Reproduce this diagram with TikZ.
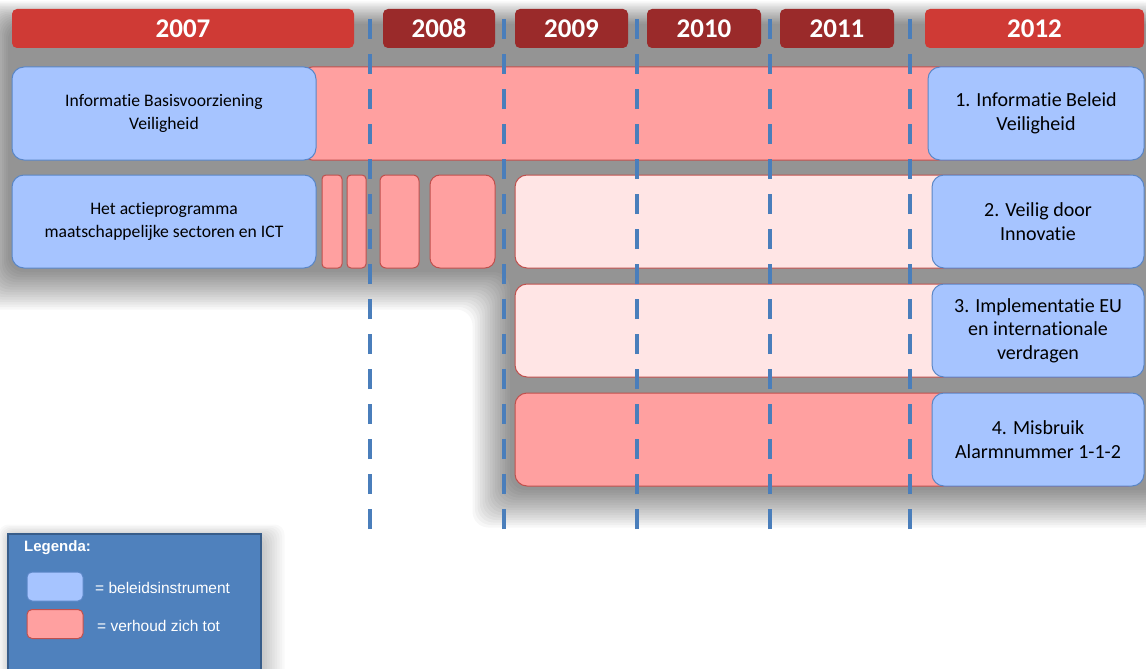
\documentclass[tikz,border=0pt]{standalone}
\usepackage{fontspec}
\setmainfont{Carlito}[Ligatures=NoCommon]
\newfontfamily\legfont{Liberation Sans}

\definecolor{yearred}{HTML}{CF3A35}
\definecolor{yeardark}{HTML}{9A2A2A}
\definecolor{instrfill}{HTML}{A6C4FF}
\definecolor{instrline}{HTML}{5A86C6}
\definecolor{relfill}{HTML}{FFA0A0}
\definecolor{rellight}{HTML}{FFE5E5}
\definecolor{relline}{HTML}{C0504D}
\definecolor{lineblue}{HTML}{4A7EBB}
\definecolor{legfill}{HTML}{4F81BD}
\definecolor{legline}{HTML}{385D8A}

\begin{document}
\begin{tikzpicture}[x=1pt,y=-1pt,
  year/.style={rounded corners=5pt,inner sep=0pt,minimum height=39pt,
    text=white,font=\fontsize{27}{30}\selectfont\bfseries},
  instr/.style={draw=instrline,fill=instrfill,line width=1pt,rounded corners=12pt,
    inner sep=0pt,align=center,minimum height=93pt,font=\fontsize{20}{23.5}\selectfont},
  instrsmall/.style={instr,font=\fontsize{17.6}{23}\selectfont},
  rel/.style={draw=relline,fill=relfill,line width=1pt,rounded corners=12pt,
    inner sep=0pt,minimum height=93pt},
  relpale/.style={rel,fill=rellight},
  yearline/.style={draw=lineblue,line width=4pt,dash pattern=on 20pt off 15pt},
  swatch/.style={line width=1pt,rounded corners=5pt,inner sep=0pt,
    minimum width=56pt,minimum height=29pt},
  legtext/.style={anchor=west,inner sep=0pt,text=white,font=\legfont\fontsize{15.5}{18}\selectfont}]
  \useasboundingbox (0,0) rectangle (1146,669);
  \fill[white] (0,0) rectangle (1146,669);

  % soft shadow behind the rows
  \foreach \k in {0,...,15}
    \fill[black,opacity=.03,rounded corners=16pt]
      (8-\k*2,24-\k*1.5) -- (1160,24-\k*1.5) -- (1160,490+\k*2.5) -- (510-\k*2.5,490+\k*2.5)
      -- (510-\k*2.5,272+\k*2.5) -- (8-\k*2,272+\k*2.5) -- cycle;
  \foreach \k in {0,...,9}
    \fill[black,opacity=.025,rounded corners=10pt] (12-\k*1.5,538-\k*1.5) rectangle (262+\k*2.5,690);

  % year headers
  \node[year,fill=yearred,minimum width=342pt] (y2007) at (183,28.5) {2007};
  \node[year,fill=yeardark,minimum width=112pt] (y2008) at (439,28.5) {2008};
  \node[year,fill=yeardark,minimum width=113pt] (y2009) at (571.5,28.5) {2009};
  \node[year,fill=yeardark,minimum width=114pt] (y2010) at (704,28.5) {2010};
  \node[year,fill=yeardark,minimum width=114pt] (y2011) at (837,28.5) {2011};
  \node[year,fill=yearred,minimum width=219pt] (y2012) at (1034.5,28.5) {2012};

  % row 1
  \node[rel,minimum width=840pt] (r1bar) at (720,113.5) {};
  \node[instrsmall,minimum width=304pt] (ibv) at (164,113.5) {Informatie Basisvoorziening\\Veiligheid};
  \node[instr,minimum width=216pt] (ibeleid) at (1036,113.5) {1. Informatie Beleid\\Veiligheid};

  % row 2
  \node[rel,rounded corners=4pt,minimum width=20pt] (r2a) at (332,221.5) {};
  \node[rel,rounded corners=4pt,minimum width=19pt] (r2b) at (356.5,221.5) {};
  \node[rel,rounded corners=6pt,minimum width=39pt] (r2c) at (399.5,221.5) {};
  \node[rel,rounded corners=10pt,minimum width=65pt] (r2d) at (462.5,221.5) {};
  \node[relpale,minimum width=625pt] (r2bar) at (827.5,221.5) {};
  \node[instrsmall,minimum width=304pt] (actie) at (164,221.5) {Het actieprogramma\\maatschappelijke sectoren en ICT};
  \node[instr,minimum width=212pt] (innov) at (1038,221.5) {2. Veilig door\\Innovatie};

  % row 3
  \node[relpale,minimum width=625pt] (r3bar) at (827.5,330.5) {};
  \node[instr,minimum width=212pt] (eu) at (1038,330.5) {3. Implementatie EU\\en internationale\\verdragen};

  % row 4
  \node[rel,minimum width=625pt] (r4bar) at (827.5,439.5) {};
  \node[instr,minimum width=212pt] (alarm) at (1038,439.5) {4. Misbruik\\Alarmnummer 1-1-2};

  % year boundaries
  \foreach \i/\x in {1/370,2/504,3/637,4/770,5/910} {
    \coordinate (lb\i) at (\x,529);
    \coordinate (lt\i) at (\x,18);
    \draw[yearline] (lb\i) -- (lt\i);
  }

  % legend
  \node[draw=legline,fill=legfill,line width=2pt,anchor=north west,inner sep=0pt,
    minimum width=253pt,minimum height=145pt] (legend) at (7,533) {};
  \node[anchor=west,inner sep=0pt,text=white,font=\legfont\bfseries\fontsize{15}{18}\selectfont]
    (legtitle) at (24,548) {Legenda:};
  \node[swatch,draw=instrline,fill=instrfill] (legblue) at (55,586.5) {};
  \node[swatch,draw=relline,fill=relfill] (legred) at (55,624) {};
  \node[legtext] (legbluetxt) at (95,588) {= beleidsinstrument};
  \node[legtext] (legredtxt) at (97,626) {= verhoud zich tot};
\end{tikzpicture}
\end{document}
